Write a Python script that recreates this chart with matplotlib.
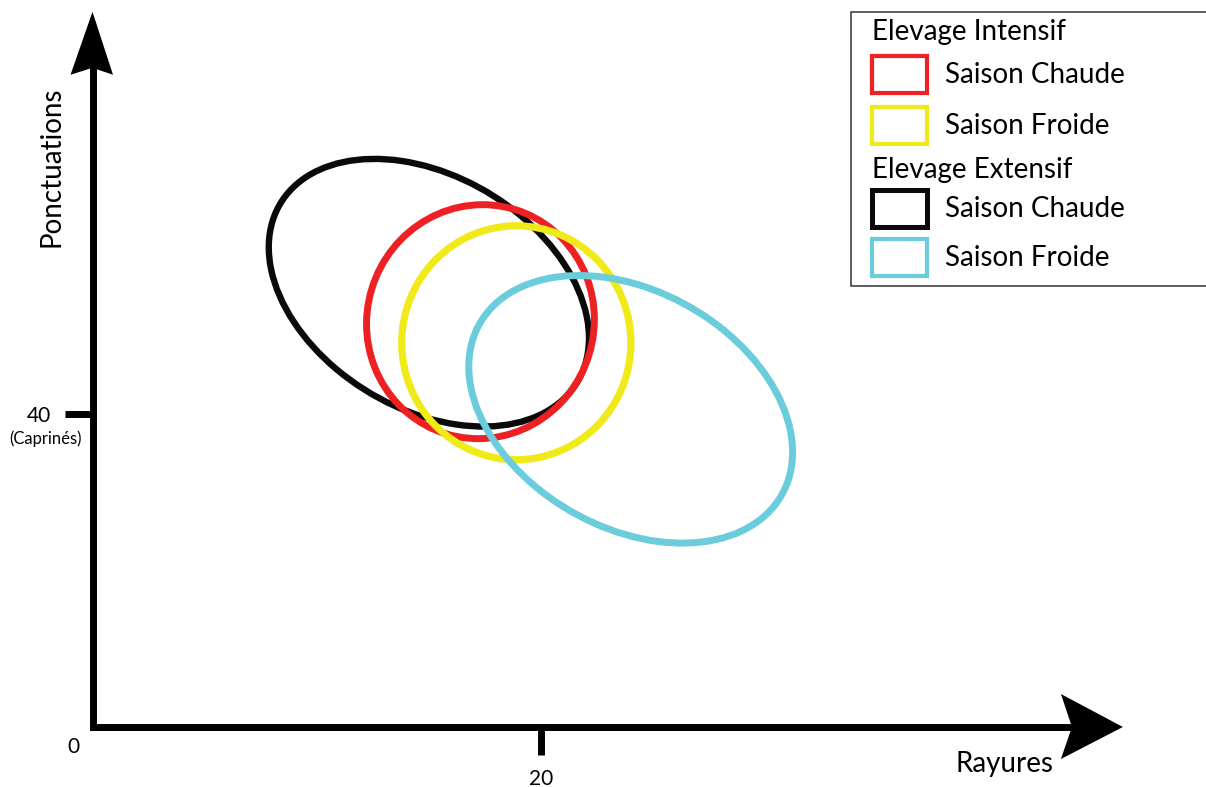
"""Ellipses de dispersion : rayures vs ponctuations (Caprinés)."""

import matplotlib
matplotlib.use("Agg")
import matplotlib.pyplot as plt
import matplotlib.transforms as mtransforms
from matplotlib.patches import Ellipse, Polygon, Rectangle
import numpy as np

plt.rcParams["font.family"] = ["Lato", "DejaVu Sans"]

# --- data -------------------------------------------------------------------
groups = ["Elevage Extensif", "Elevage Intensif", "Elevage Intensif", "Elevage Extensif"]
seasons = ["Saison Chaude", "Saison Chaude", "Saison Froide", "Saison Froide"]
mean_rayures = [15.0, 17.3, 18.9, 24.0]
mean_ponct = [55.5, 51.8, 49.1, 40.6]
sd_rayures = [7.14, 5.08, 5.11, 7.22]
sd_ponct = [17.1, 14.95, 14.95, 17.1]
corr = [-0.34, 0.02, 0.0, -0.32]

x_ticks = [20]
y_ticks = [40]
x_label = "Rayures"
y_label = "Ponctuations"
y_tick_note = "(Caprinés)"

colors = ["#0a0a0a", "#ed2024", "#f0ea19", "#6bcddb"]
line_w = [4.6, 5.0, 5.2, 5.0]

W, H = 1206, 787


def fig_xy(x_px, y_px):
    return x_px / W, 1 - y_px / H


def conf_ellipse(ax, mx, my, sx, sy, rho, **kw):
    ell = Ellipse((0, 0), width=2 * np.sqrt(1 + rho), height=2 * np.sqrt(1 - rho), fill=False, **kw)
    tr = mtransforms.Affine2D().rotate_deg(45).scale(sx, sy).translate(mx, my)
    ell.set_transform(tr + ax.transData)
    ax.add_patch(ell)


fig = plt.figure(figsize=(W / 100, H / 100), dpi=100)
ax = fig.add_axes([0, 0, 1, 1])
ax.set_xlim(-4.125, 49.655)
ax.set_ylim(-7.668, 92.907)

for i in range(len(groups)):
    conf_ellipse(ax, mean_rayures[i], mean_ponct[i], sd_rayures[i], sd_ponct[i], corr[i],
                 edgecolor=colors[i], linewidth=line_w[i], zorder=2 + i)

# axes as arrows
for side in ["top", "right"]:
    ax.spines[side].set_visible(False)
for side in ["left", "bottom"]:
    ax.spines[side].set_position(("data", 0))
    ax.spines[side].set_linewidth(5)
    ax.spines[side].set_color("black")
ax.spines["bottom"].set_bounds(0, 43.7)
ax.spines["left"].set_bounds(0, 84.3)

ax.set_xticks(x_ticks, [str(v) for v in x_ticks])
ax.set_yticks(y_ticks, [str(v) for v in y_ticks])
ax.tick_params(length=20.5, width=5, direction="out", pad=10, labelsize=15, colors="black")
ax.tick_params(axis="y", pad=9)

x_tip = mtransforms.ScaledTranslation(45.95, 0, ax.transData)
ax.add_patch(Polygon([(0, 0), (-0.62, 0.33), (-0.51, 0), (-0.62, -0.32)], closed=True,
                     facecolor="black", edgecolor="none",
                     transform=fig.dpi_scale_trans + x_tip, clip_on=False))
y_tip = mtransforms.ScaledTranslation(0, 91.4, ax.transData)
ax.add_patch(Polygon([(0, 0), (0.205, -0.63), (0, -0.56), (-0.22, -0.63)], closed=True,
                     facecolor="black", edgecolor="none",
                     transform=fig.dpi_scale_trans + y_tip, clip_on=False))

fig.text(*fig_xy(1004, 764), x_label, fontsize=20, ha="center", va="center")
fig.text(*fig_xy(52, 167), y_label, fontsize=20, rotation=90, ha="center", va="center")
fig.text(*fig_xy(73, 747), "0", fontsize=15, ha="center", va="center")
fig.text(*fig_xy(46, 439), y_tick_note, fontsize=12, ha="center", va="center")

# legend, grouped by elevage type
x0, y0 = fig_xy(851, 286)
x1, y1 = fig_xy(1210, 12)
fig.patches.append(Rectangle((x0, y0), x1 - x0, y1 - y0, transform=fig.transFigure,
                             facecolor="white", edgecolor="#333333", linewidth=1.1, zorder=10))

legend_rows = [
    ("Elevage Intensif", None, 32),
    ("Saison Chaude", 1, 74),
    ("Saison Froide", 2, 125),
    ("Elevage Extensif", None, 170),
    ("Saison Chaude", 0, 208),
    ("Saison Froide", 3, 257),
]
for label, idx, yc in legend_rows:
    if idx is None:
        fig.text(*fig_xy(872, yc), label, fontsize=20, ha="left", va="center", zorder=11)
        continue
    rx, ry = fig_xy(872, yc + 18.5)
    rw = 55 / W
    rh = 37 / H
    fig.patches.append(Rectangle((rx, ry), rw, rh, transform=fig.transFigure, fill=False,
                                 edgecolor=colors[idx], linewidth=3.0 if idx else 3.6, zorder=11))
    fig.text(*fig_xy(945, yc + 1), label, fontsize=20, ha="left", va="center", zorder=11)

fig.savefig("out.png", dpi=100)
